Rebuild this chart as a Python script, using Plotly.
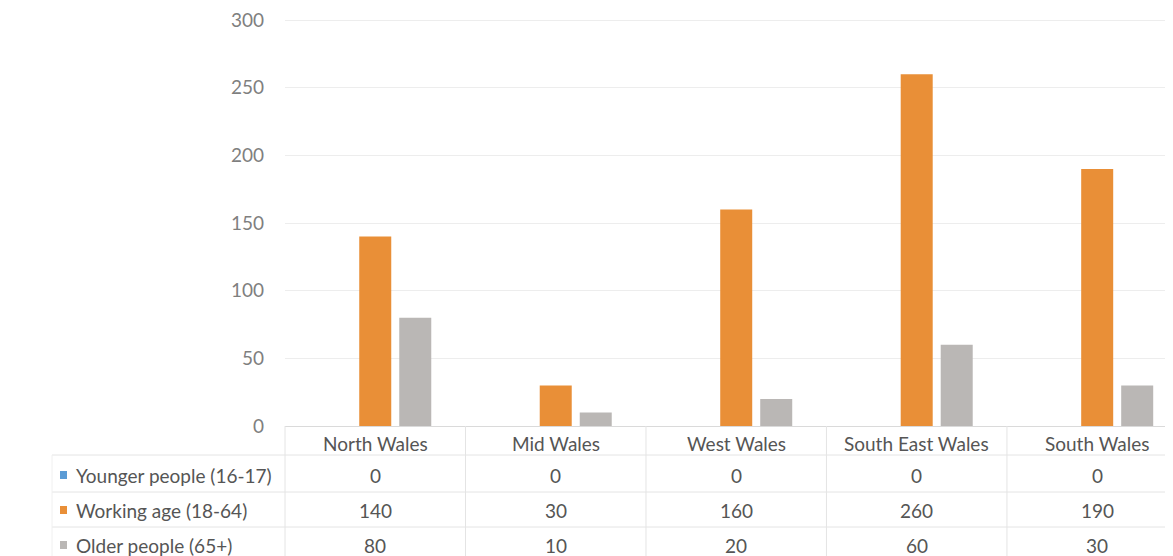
import plotly.graph_objects as go

categories = ["North Wales", "Mid Wales", "West Wales", "South East Wales", "South Wales"]
series_names = ["Younger people (16-17)", "Working age (18-64)", "Older people (65+)"]
younger = [0, 0, 0, 0, 0]
working = [140, 30, 160, 260, 190]
older = [80, 10, 20, 60, 30]
y_ticks = [0, 50, 100, 150, 200, 250, 300]

colors = ["#5B9BD5", "#E98F37", "#BAB7B5"]
series_values = [younger, working, older]

OFF = 8  # page body margin
W, H = 1173, 556
FW, FH = W - OFF, H - OFF
Y_MAX = 303
PX_PER_UNIT = (426 - 20) / 300
L_s, BOT_s = 285, 426
T_s = round(BOT_s - Y_MAX * PX_PER_UNIT)
L = L_s - OFF
T = T_s - OFF
B = FH - (BOT_s - OFF)
plot_h = FH - T - B
plot_w = FW - L
x_range = [-0.5, 4.42]
FONT = "Lato"
TXT = "#555555"
FS = 19

def px_x(sx):
    return (sx - L_s) / plot_w

def px_y(sy):
    return (BOT_s - sy) / plot_h

def cat_to_paper(v):
    return (v - x_range[0]) / (x_range[1] - x_range[0])

xs = list(range(len(categories)))
fig = go.Figure()
for name, vals, c in zip(series_names, series_values, colors):
    fig.add_trace(go.Bar(x=xs, y=vals, name=name, marker=dict(color=c, line=dict(width=0)),
                         showlegend=False))

shapes = []
annotations = []
line_c = "#E4E4E4"
for sy in [455, 492, 527]:
    shapes.append(dict(type="line", xref="paper", yref="paper", x0=px_x(52), x1=1.02,
                       y0=px_y(sy), y1=px_y(sy), line=dict(color=line_c, width=1)))
shapes.append(dict(type="line", xref="paper", yref="paper", x0=px_x(52), x1=px_x(52),
                   y0=px_y(455), y1=px_y(560), line=dict(color="#F0F0F0", width=1)))
for k in range(len(categories) + 1):
    xp = cat_to_paper(k - 0.5)
    shapes.append(dict(type="line", xref="paper", yref="paper", x0=xp, x1=xp,
                       y0=0, y1=px_y(560), line=dict(color=line_c, width=1)))
for i, cat in enumerate(categories):
    annotations.append(dict(x=cat_to_paper(i), y=px_y(443), xref="paper", yref="paper",
                            text=cat, showarrow=False, xanchor="center", yanchor="middle",
                            font=dict(family=FONT, size=FS, color=TXT)))
row_y = [475, 510, 545]
for r, (name, vals, c) in enumerate(zip(series_names, series_values, colors)):
    yy = row_y[r]
    shapes.append(dict(type="rect", xref="paper", yref="paper", x0=px_x(60), x1=px_x(67),
                       y0=px_y(yy + 4), y1=px_y(yy - 4), fillcolor=c, line=dict(width=0)))
    annotations.append(dict(x=px_x(74), y=px_y(yy), xref="paper", yref="paper", text=name,
                            showarrow=False, xanchor="left", yanchor="middle",
                            font=dict(family=FONT, size=FS, color=TXT)))
    for i, v in enumerate(vals):
        annotations.append(dict(x=cat_to_paper(i), y=px_y(yy), xref="paper", yref="paper",
                                text=str(v), showarrow=False, xanchor="center", yanchor="middle",
                                font=dict(family=FONT, size=FS, color=TXT)))

fig.update_layout(
    width=FW, height=FH,
    margin=dict(l=L, r=0, t=T, b=B, pad=0),
    paper_bgcolor="white", plot_bgcolor="white",
    barmode="group", bargap=0.335, bargroupgap=0.2,
    xaxis=dict(range=x_range, showticklabels=False, showgrid=False, zeroline=False,
               showline=False, fixedrange=True),
    yaxis=dict(range=[0, Y_MAX], tickvals=y_ticks, showgrid=True, gridcolor="#EDEDED",
               gridwidth=1, zeroline=True, zerolinecolor="#DADADA", zerolinewidth=1,
               showline=False, ticks="", ticklabelstandoff=20, ticklabeloverflow="allow",
               tickfont=dict(family=FONT, size=FS, color="#7F7F7F")),
    shapes=shapes, annotations=annotations,
)
fig.write_html("out.html")
